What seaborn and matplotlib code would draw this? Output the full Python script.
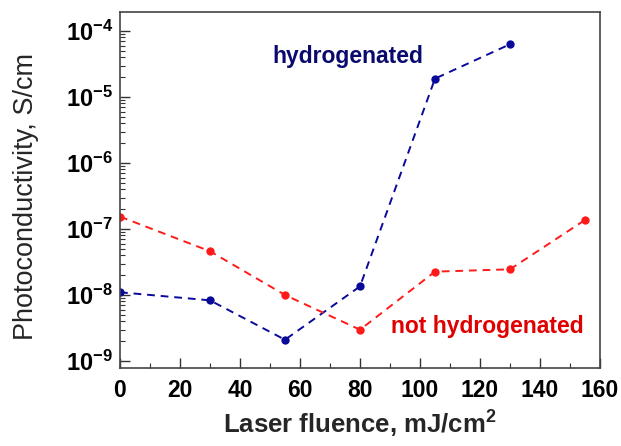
import matplotlib
matplotlib.use("Agg")
import matplotlib.pyplot as plt
import matplotlib.ticker as mticker
import numpy as np
import pandas as pd
import seaborn as sns

# Laser fluence (mJ/cm^2) and photoconductivity (S/cm)
fluence_h = [0, 30, 55, 80, 105, 130]
sigma_h = [1.1e-8, 8.3e-9, 2.1e-9, 1.35e-8, 1.9e-5, 6.3e-5]

fluence_n = [0, 30, 55, 80, 105, 130, 155]
sigma_n = [1.54e-7, 4.6e-8, 1.0e-8, 2.98e-9, 2.26e-8, 2.45e-8, 1.37e-7]

labels = ["hydrogenated", "not hydrogenated"]
x_ticks = [0, 20, 40, 60, 80, 100, 120, 140, 160]
y_exponents = [-9, -8, -7, -6, -5, -4]

df = pd.DataFrame({
    "fluence": fluence_h + fluence_n,
    "sigma": sigma_h + sigma_n,
    "sample": [labels[0]] * len(fluence_h) + [labels[1]] * len(fluence_n),
})

sns.set_style("ticks")
plt.rcParams["font.family"] = ["Liberation Sans", "DejaVu Sans"]
plt.rcParams["mathtext.fontset"] = "custom"
plt.rcParams["mathtext.rm"] = "Liberation Sans"
plt.rcParams["mathtext.bf"] = "Liberation Sans:bold"
plt.rcParams["mathtext.it"] = "Liberation Sans:italic"

fig = plt.figure(figsize=(6.21, 4.46), dpi=100)
ax = fig.add_axes([120 / 621, 1 - 368 / 446, 480 / 621, 356 / 446])

palette = {labels[0]: "#0a0a9a", labels[1]: "#ff1a1a"}
sns.lineplot(data=df, x="fluence", y="sigma", hue="sample", palette=palette,
             marker="o", markersize=6, markeredgewidth=0, linewidth=1.4,
             dashes=False, legend=False, ax=ax)
for line in ax.lines:
    line.set_linestyle((0, (4, 3)))

ax.set_yscale("log")
ax.set_xlim(0, 160)
ax.set_ylim(10 ** -9.106, 10 ** -3.712)

ax.set_xticks(x_ticks)
ax.set_xticks([t + 10 for t in x_ticks[:-1]], minor=True)

major_y = [10.0 ** e for e in y_exponents]
minor_y = [m * 10.0 ** e for e in y_exponents[:-1] for m in range(2, 10)]
ax.set_yticks(major_y)
ax.set_yticks(minor_y, minor=True)
ax.set_yticklabels([r"$\mathbf{10^{%d}}$" % e for e in y_exponents])
ax.yaxis.set_minor_formatter(mticker.NullFormatter())

ax.tick_params(which="both", direction="in", colors="#333333", labelcolor="black")
ax.tick_params(which="major", length=7, width=1)
ax.tick_params(which="minor", length=3.5, width=0.8)
ax.tick_params(axis="x", labelsize=16.5, pad=8)
ax.tick_params(axis="y", labelsize=17, pad=5)
for lab in ax.get_xticklabels():
    lab.set_fontweight("bold")

for s in ax.spines.values():
    s.set_color("#444444")
    s.set_linewidth(1.2)

ax.set_xlabel("Laser fluence, mJ/cm$^\\mathbf{2}$", fontsize=18.5, fontweight="bold")
ax.xaxis.set_label_coords(0.5, -0.116)
ax.set_ylabel("Photoconductivity, S/cm", fontsize=19.5)
ax.yaxis.set_label_coords(-0.168, 0.483)

ax.text(76, 10 ** -4.39, labels[0], color="#0a0a6e", fontsize=16.5, fontweight="bold",
        ha="center", va="center")
ax.text(122.5, 10 ** -8.48, labels[1], color="#e00000", fontsize=16.5, fontweight="bold",
        ha="center", va="center")

fig.savefig("out.png", dpi=100)
